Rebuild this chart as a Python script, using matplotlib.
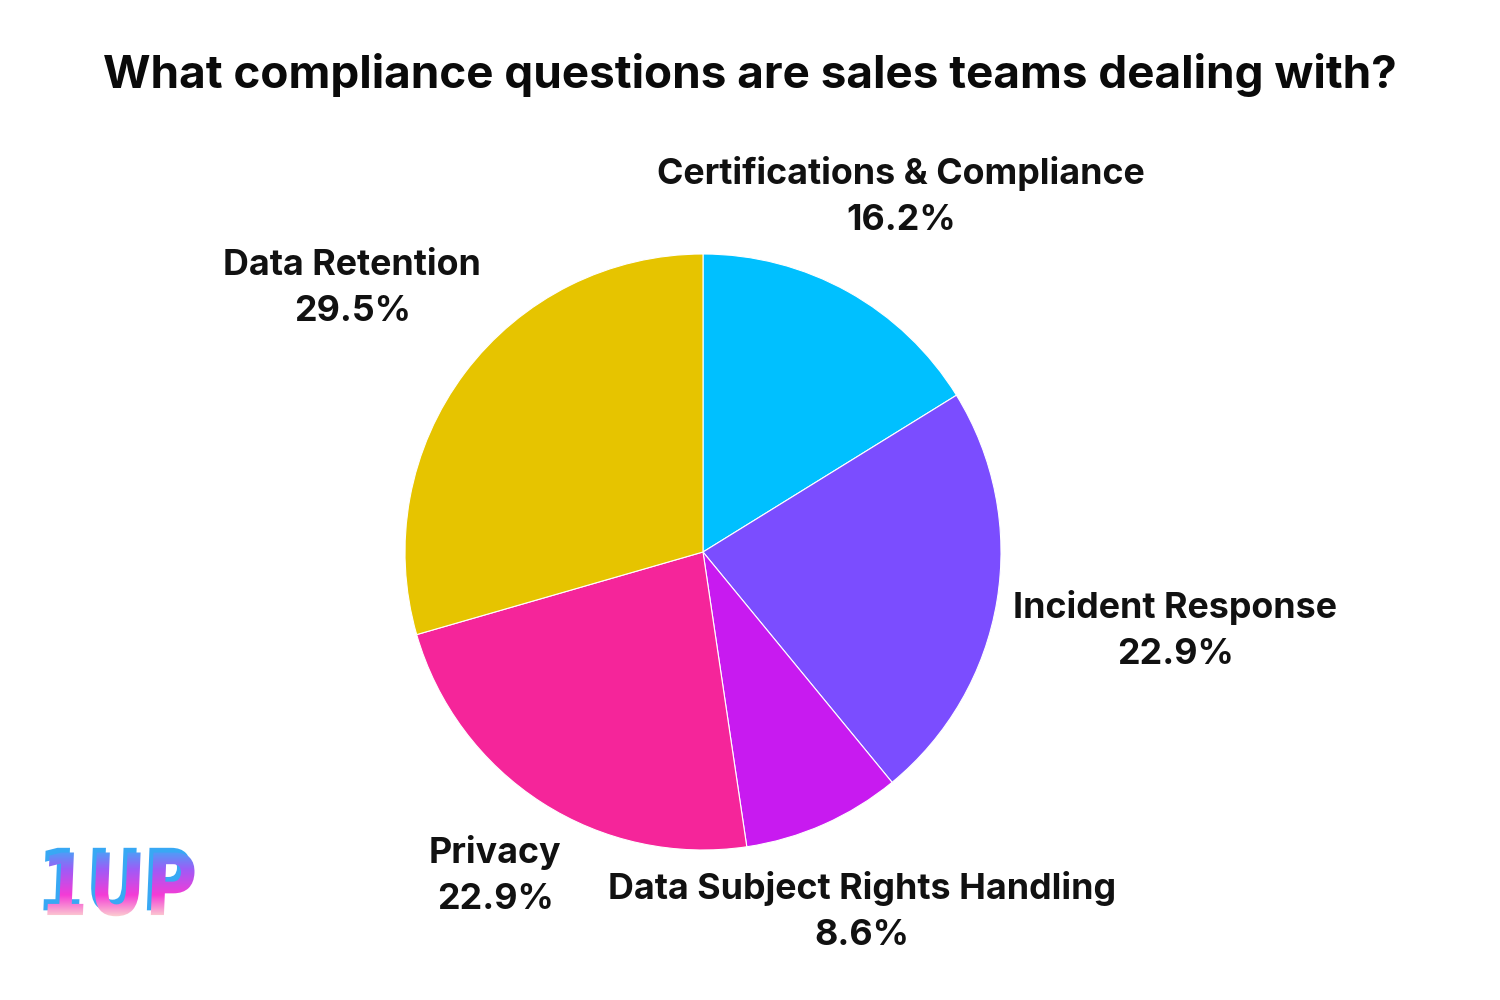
import matplotlib
matplotlib.use("Agg")
import matplotlib.pyplot as plt
import numpy as np
from matplotlib.textpath import TextPath
from matplotlib.patches import PathPatch
from matplotlib.path import Path
from matplotlib.font_manager import FontProperties
from matplotlib.colors import LinearSegmentedColormap

plt.rcParams['font.family'] = ['Inter', 'DejaVu Sans']

# data
categories = ['Certifications & Compliance', 'Incident Response', 'Data Subject Rights Handling',
              'Privacy', 'Data Retention']
shares = [16.2, 22.9, 8.6, 22.9, 29.5]
colors = ['#00C0FF', '#7B4DFF', '#C81AF0', '#F5259A', '#E6C400']
label_dist = [1.366, 1.607, 1.319, 1.289, 1.473]

fig = plt.figure(figsize=(15, 10), dpi=100)
fig.patch.set_facecolor('white')

# pie axes: centre (703, 552) px, radius 298 px
cx, cy, r = 703, 552, 298
ax = fig.add_axes([(cx - r) / 1500, (1000 - cy - r) / 1000, 2 * r / 1500, 2 * r / 1000])
wedges, _ = ax.pie(shares, colors=colors, startangle=90, counterclock=False,
                   wedgeprops=dict(edgecolor='white', linewidth=0.8))
ax.set_xlim(-1, 1)
ax.set_ylim(-1, 1)
ax.set_aspect('equal')
ax.axis('off')

# outside labels
for w, name, val, d in zip(wedges, categories, shares, label_dist):
    ang = np.deg2rad((w.theta1 + w.theta2) / 2)
    x, y = d * np.cos(ang), d * np.sin(ang)
    ax.text(x, y, f"{name}\n{val}%", ha='center', va='center', fontsize=25.8,
            fontweight='bold', color='#111111', linespacing=1.5, clip_on=False)

fig.text(0.5, 0.925, "What compliance questions are sales teams dealing with?",
         ha='center', va='center', fontsize=33, fontweight='bold', color='#0a0a0a')

# 1UP logo
lax = fig.add_axes([0.027, 0.08, 0.105, 0.075])
lax.set_xlim(0, 160)
lax.set_ylim(0, 80)
lax.axis('off')
tp = TextPath((0, 0), "1UP", size=78, prop=FontProperties(family='DejaVu Sans', weight='bold'))
ext = tp.get_extents()
sx = 148 / ext.width
sy = 68 / ext.height
verts = tp.vertices.copy()
verts[:, 0] = (verts[:, 0] - ext.x0) * sx + 8
verts[:, 1] = (verts[:, 1] - ext.y0) * sy + 4
verts[:, 0] += (verts[:, 1] - 40) * 0.04
p = Path(verts, tp.codes)
shadow = PathPatch(Path(verts + [-4, 5], tp.codes), facecolor='#38a8f4', edgecolor='none', zorder=1)
lax.add_patch(shadow)
patch = PathPatch(p, facecolor='none', edgecolor='none', zorder=0)
lax.add_patch(patch)
cmap = LinearSegmentedColormap.from_list('logo', ['#fde6cf', '#f43cd6', '#a15af6', '#30b6f8'])
grad = np.linspace(0, 1, 256).reshape(-1, 1)
im = lax.imshow(grad, extent=[0, 160, 0, 80], origin='lower', cmap=cmap, aspect='auto', zorder=2)
im.set_clip_path(patch)
white = PathPatch(Path(verts + [3, -2], tp.codes), facecolor='none', edgecolor='none')
lax.set_xlim(0, 160)
lax.set_ylim(0, 80)

fig.savefig('out.png', dpi=100, facecolor='white')
